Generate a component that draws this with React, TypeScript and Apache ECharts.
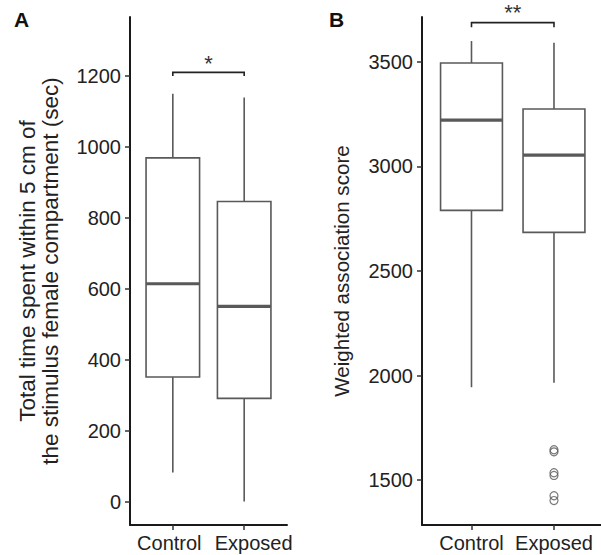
import React, { useEffect, useRef } from "react";
import * as echarts from "echarts";

// ---- data ----
const categories = ["Control", "Exposed"];
// [lower whisker, Q1, median, Q3, upper whisker]
const timeStats = [
  [82, 351, 614, 969, 1150],
  [0, 291, 550, 846, 1139],
];
const scoreStats = [
  [1944, 2790, 3222, 3495, 3600],
  [1965, 2685, 3054, 3275, 3592],
];
const scoreOutliers = [1645, 1635, 1535, 1522, 1425, 1402];
const timeTicks = [0, 200, 400, 600, 800, 1000, 1200];
const scoreTicks = [1500, 2000, 2500, 3000, 3500];
// bracket: [x1, x2, leg bottom, bar top, star y, label]
const timeBracket = [[1, 2, 1200, 1210, 1234, "*"]];
const scoreBracket = [[1, 2, 3666, 3688, 3735, "**"]];

const FONT = "'Liberation Sans', Arial, Helvetica, sans-serif";
const BOX_COLOR = "#595959";
const AXIS_COLOR = "#1a1a1a";
const TEXT_COLOR = "#222";

function boxRenderItem(params: any, api: any) {
  const x = api.value(0);
  const lo = api.coord([x, api.value(1)]);
  const q1 = api.coord([x, api.value(2)]);
  const med = api.coord([x, api.value(3)]);
  const q3 = api.coord([x, api.value(4)]);
  const hi = api.coord([x, api.value(5)]);
  const half = api.size([0.75, 0])[0] / 2;
  const lineStyle = { stroke: BOX_COLOR, lineWidth: 1.6, fill: "none" };
  return {
    type: "group",
    children: [
      { type: "line", shape: { x1: hi[0], y1: hi[1], x2: q3[0], y2: q3[1] }, style: lineStyle },
      { type: "line", shape: { x1: q1[0], y1: q1[1], x2: lo[0], y2: lo[1] }, style: lineStyle },
      {
        type: "rect",
        shape: { x: q3[0] - half, y: q3[1], width: half * 2, height: q1[1] - q3[1] },
        style: { stroke: BOX_COLOR, lineWidth: 1.6, fill: "#fff" },
      },
      {
        type: "line",
        shape: { x1: med[0] - half, y1: med[1], x2: med[0] + half, y2: med[1] },
        style: { stroke: BOX_COLOR, lineWidth: 3.2 },
      },
    ],
  };
}

function bracketRenderItem(params: any, api: any) {
  const x1 = api.value(0);
  const x2 = api.value(1);
  const a = api.coord([x1, api.value(2)]);
  const b = api.coord([x1, api.value(3)]);
  const c = api.coord([x2, api.value(3)]);
  const d = api.coord([x2, api.value(2)]);
  const s = api.coord([(x1 + x2) / 2, api.value(4)]);
  return {
    type: "group",
    children: [
      {
        type: "polyline",
        shape: { points: [a, b, c, d] },
        style: { stroke: "#222", lineWidth: 1.6, fill: "none" },
      },
      {
        type: "text",
        x: s[0],
        y: s[1],
        style: {
          text: api.value(5),
          fontSize: 22,
          fontFamily: FONT,
          fill: "#333",
          align: "center",
          verticalAlign: "middle",
        },
      },
    ],
  };
}

function yAxisBase(
  min: number,
  max: number,
  ticks: number[],
  name: string,
  gap: number,
  nameSize: number,
  idx: number
) {
  return {
    type: "value",
    gridIndex: idx,
    min,
    max,
    name,
    nameLocation: "middle",
    nameGap: gap,
    nameTextStyle: { fontSize: nameSize, fontFamily: FONT, color: TEXT_COLOR, lineHeight: 23 },
    splitLine: { show: false },
    axisLine: { show: true, lineStyle: { color: AXIS_COLOR, width: 2 } },
    axisTick: { show: true, length: 5, customValues: ticks, lineStyle: { color: "#333", width: 1.5 } },
    axisLabel: {
      customValues: ticks,
      formatter: (v: number) => String(v),
      fontSize: 20,
      fontFamily: FONT,
      color: TEXT_COLOR,
      margin: 9,
    },
  };
}

function xAxisBase(max: number, idx: number, spread: boolean) {
  const rich = {
    l: { fontSize: 20, fontFamily: FONT, color: TEXT_COLOR, padding: spread ? [0, 7, 0, 0] : 0 },
    r: { fontSize: 20, fontFamily: FONT, color: TEXT_COLOR, padding: spread ? [0, 0, 0, 19] : 0 },
  };
  return {
    type: "value",
    gridIndex: idx,
    min: 0.4,
    max,
    splitLine: { show: false },
    axisLine: { show: true, onZero: false, lineStyle: { color: AXIS_COLOR, width: 2 } },
    axisTick: { show: true, length: 5, customValues: [1, 2], lineStyle: { color: "#333", width: 1.5 } },
    axisLabel: {
      customValues: [1, 2],
      formatter: (v: number) => {
        const i = Math.round(v) - 1;
        return `{${i === 0 ? "l" : "r"}|${categories[i] ?? ""}}`;
      },
      rich,
      fontSize: 20,
      fontFamily: FONT,
      color: TEXT_COLOR,
      margin: 8,
    },
  };
}

export default function App() {
  const ref = useRef<HTMLDivElement>(null);
  useEffect(() => {
    if (!ref.current) return;
    const chart = echarts.init(ref.current, null, { renderer: "svg" });
    chart.setOption({
      animation: false,
      backgroundColor: "#fff",
      textStyle: { fontFamily: FONT },
      grid: [
        { left: 130, top: 17, width: 157, height: 508 },
        { left: 422, top: 17, width: 179, height: 508 },
      ],
      xAxis: [xAxisBase(2.6, 0, true), xAxisBase(2.57, 1, false)],
      yAxis: [
        yAxisBase(
          -66,
          1366,
          timeTicks,
          "Total time spent within 5 cm of\nthe stimulus female compartment (sec)",
          68,
          22.5,
          0
        ),
        yAxisBase(1285, 3715, scoreTicks, "Weighted association score", 69, 20.6, 1),
      ],
      graphic: [
        { type: "text", left: 14, top: 9, style: { text: "A", fontSize: 21, fontWeight: "bold", fontFamily: FONT, fill: "#111" } },
        { type: "text", left: 329, top: 9, style: { text: "B", fontSize: 21, fontWeight: "bold", fontFamily: FONT, fill: "#111" } },
      ],
      series: [
        {
          type: "custom",
          xAxisIndex: 0,
          yAxisIndex: 0,
          renderItem: boxRenderItem,
          encode: { x: 0, y: [1, 2, 3, 4, 5] },
          data: timeStats.map((s, i) => [i + 1, ...s]),
          clip: false,
        },
        {
          type: "custom",
          xAxisIndex: 1,
          yAxisIndex: 1,
          renderItem: boxRenderItem,
          encode: { x: 0, y: [1, 2, 3, 4, 5] },
          data: scoreStats.map((s, i) => [i + 1, ...s]),
          clip: false,
        },
        {
          type: "scatter",
          xAxisIndex: 1,
          yAxisIndex: 1,
          symbol: "circle",
          symbolSize: 8,
          itemStyle: { color: "rgba(0,0,0,0)", borderColor: BOX_COLOR, borderWidth: 1.2 },
          data: scoreOutliers.map((v) => [2, v]),
        },
        {
          type: "custom",
          xAxisIndex: 0,
          yAxisIndex: 0,
          renderItem: bracketRenderItem,
          encode: { x: [0, 1], y: [2, 3, 4] },
          data: timeBracket,
          clip: false,
        },
        {
          type: "custom",
          xAxisIndex: 1,
          yAxisIndex: 1,
          renderItem: bracketRenderItem,
          encode: { x: [0, 1], y: [2, 3, 4] },
          data: scoreBracket,
          clip: false,
        },
      ],
    });
    return () => chart.dispose();
  }, []);
  return (
    <div
      ref={ref}
      style={{ position: "absolute", left: 0, top: 0, width: 601, height: 555, background: "#fff" }}
    />
  );
}
